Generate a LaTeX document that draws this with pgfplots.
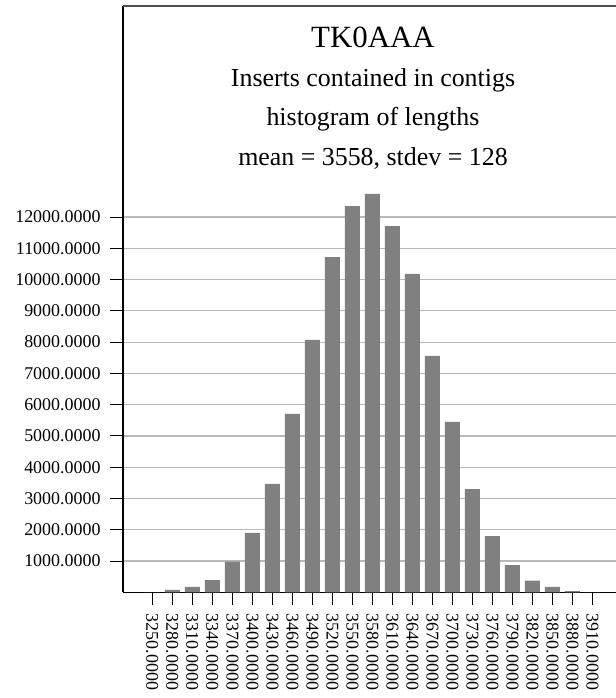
\documentclass[border=0pt]{standalone}
\usepackage{pgfplots}
\pgfplotsset{compat=1.18}
\usepackage{fontspec}
\setmainfont{Liberation Serif}
\definecolor{barcol}{RGB}{128,128,128}
\definecolor{gridcol}{RGB}{185,185,185}
\definecolor{topcol}{RGB}{80,80,80}
\begin{document}
\begin{tikzpicture}[x=1bp,y=1bp]
\begin{axis}[
  at={(0,0)}, anchor=south west,
  scale only axis, width=493bp, height=586.3bp,
  xmin=3206, xmax=3945.5, ymin=0, ymax=18750,
  axis x line*=bottom, axis y line*=left,
  axis line style={black, line width=1.2bp, -},
  xtick={3250,3280,3310,3340,3370,3400,3430,3460,3490,3520,3550,3580,3610,3640,3670,3700,3730,3760,3790,3820,3850,3880,3910},
  ytick={1000,2000,3000,4000,5000,6000,7000,8000,9000,10000,11000,12000},
  scaled ticks=false,
  tick align=outside,
  major tick length=13bp,
  tick style={black, line width=1bp},
  ymajorgrids, grid style={gridcol, line width=1.2bp},
  /pgf/number format/assume math mode=true,
  /pgf/number format/fixed,
  /pgf/number format/fixed zerofill,
  /pgf/number format/precision=4,
  /pgf/number format/1000 sep={},
  xticklabel shift=5bp,
  yticklabel shift=6bp,
  xticklabel style={rotate=-90, anchor=west, font=\fontsize{18}{18}\selectfont},
  yticklabel style={font=\fontsize{18}{18}\selectfont},
]
\addplot[ybar, bar width=15bp, fill=barcol, draw=none] coordinates {
(3250,0) (3280,80) (3310,175) (3340,390) (3370,980) (3400,1900) (3430,3465)
(3460,5705) (3490,8070) (3520,10720) (3550,12350) (3580,12740) (3610,11710)
(3640,10180) (3670,7560) (3700,5450) (3730,3300) (3760,1800) (3790,870)
(3820,370) (3850,170) (3880,40) (3910,0)
};
\end{axis}
\draw[topcol, line width=2bp] (0,586.3) -- (493,586.3);
\node[anchor=base, font=\fontsize{31}{31}\selectfont, inner sep=0] at (250,544.3) {TK0AAA};
\node[anchor=base, font=\fontsize{26}{26}\selectfont, inner sep=0] at (250,505.3) {Inserts contained in contigs};
\node[anchor=base, font=\fontsize{26}{26}\selectfont, inner sep=0] at (250,466.3) {histogram of lengths};
\node[anchor=base, font=\fontsize{26}{26}\selectfont, inner sep=0] at (250,426.3) {mean = 3558, stdev = 128};
\pgfresetboundingbox
\path[use as bounding box] (-123,-105.7) rectangle (493,592.3);
\end{tikzpicture}
\end{document}
